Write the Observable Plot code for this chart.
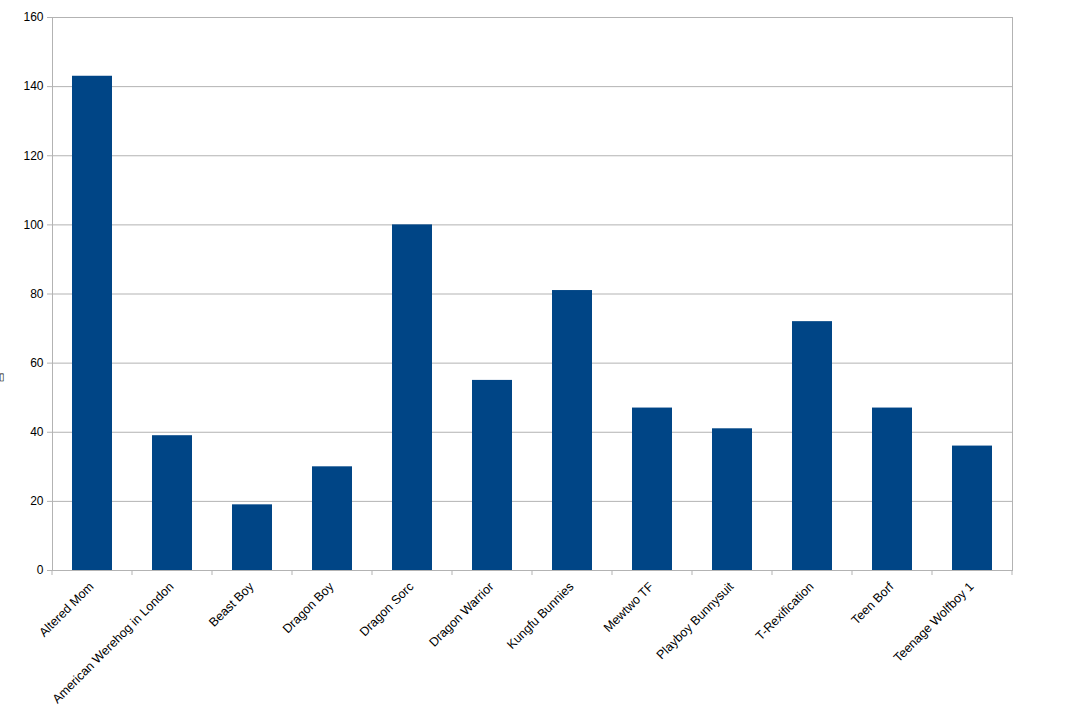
<!DOCTYPE html>
<html>
<head>
<meta charset="utf-8">
<script src="https://cdn.jsdelivr.net/npm/d3@7"></script>
<script src="https://cdn.jsdelivr.net/npm/@observablehq/plot@0.6"></script>
<style>
  html, body { margin: 0; padding: 0; background: #fff; }
  #chart { position: relative; width: 1067px; height: 717px; }
</style>
</head>
<body>
<div id="chart"></div>
<script>
const categories = ["Altered Mom", "American Werehog in London", "Beast Boy", "Dragon Boy", "Dragon Sorc", "Dragon Warrior", "Kungfu Bunnies", "Mewtwo TF", "Playboy Bunnysuit", "T-Rexification", "Teen Borf", "Teenage Wolfboy 1"];
const values = [143, 39, 19, 30, 100, 55, 81, 47, 41, 72, 47, 36];
const yTicks = [0, 20, 40, 60, 80, 100, 120, 140, 160];
const yAxisTitle = "\u25AF";

const data = categories.map((c, i) => ({category: c, value: values[i]}));
const gridColor = "#b3b3b3";

const plot = Plot.plot({
  width: 1067,
  height: 717,
  marginLeft: 52,
  marginRight: 55,
  marginTop: 17,
  marginBottom: 147,
  style: {fontFamily: "'Liberation Sans', Arial, sans-serif", fontSize: "12px", color: "#000", background: "#fff"},
  x: {domain: categories, paddingInner: 0.5, paddingOuter: 0.25},
  y: {domain: [0, 160]},
  marks: [
    Plot.gridY(yTicks, {stroke: gridColor, strokeOpacity: 1}),
    Plot.frame({stroke: gridColor}),
    Plot.barY(data, {x: "category", y: "value", fill: "#004586"}),
    Plot.axisY(yTicks, {tickSize: 5, tickPadding: 4, stroke: gridColor, strokeOpacity: 1, fill: "#000", label: null, fontSize: 12}),
    Plot.axisX({tickSize: 0, tickPadding: 14, tickRotate: -45, label: null, fill: "#000", fontSize: 12.5, dx: -1})
  ]
});

document.getElementById("chart").appendChild(plot);

// category boundary ticks below the x axis, derived from the x scale
const xs = plot.scale("x");
const ys = plot.scale("y");
const svg = d3.select(plot);
const step = xs.step;
const bounds = categories.map(c => xs.apply(c) - (xs.bandwidth ? (step - xs.bandwidth) / 2 : 0));
bounds.push(bounds[bounds.length - 1] + step);
const y0 = ys.apply(0);
svg.append("g").selectAll("line").data(bounds).join("line")
  .attr("x1", d => d).attr("x2", d => d)
  .attr("y1", y0).attr("y2", y0 + 5)
  .attr("stroke", gridColor);

svg.append("text")
  .attr("x", 1.5).attr("y", ys.apply(55))
  .attr("font-size", 10)
  .attr("fill", "#000")
  .text(yAxisTitle);
</script>
</body>
</html>
